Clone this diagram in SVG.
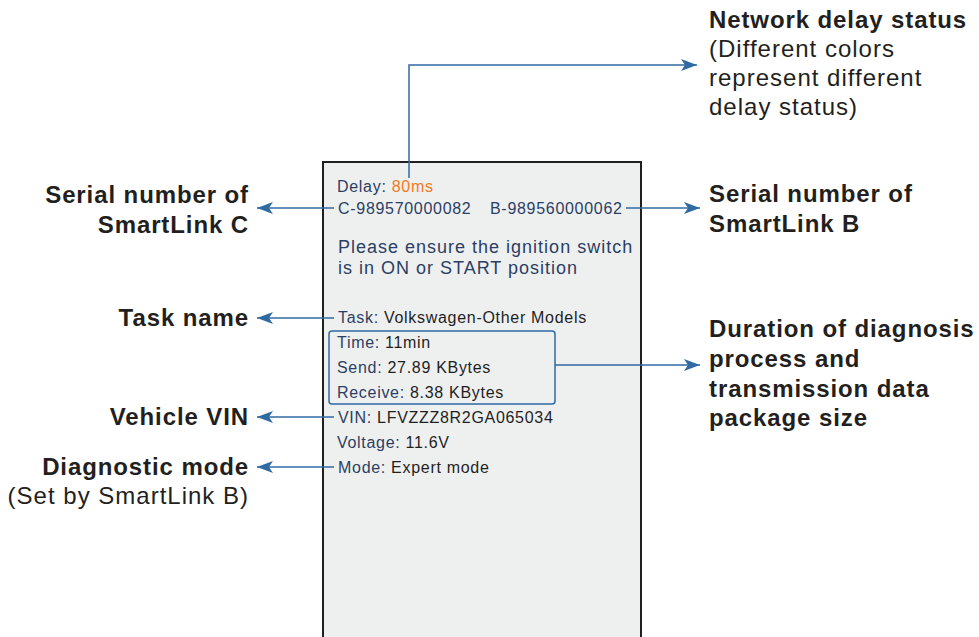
<svg xmlns="http://www.w3.org/2000/svg" width="979" height="637" viewBox="0 0 979 637">
<defs>
<marker id="ah" viewBox="0 0 16 12" refX="16" refY="6" markerWidth="16" markerHeight="12" markerUnits="userSpaceOnUse" orient="auto">
<path d="M0,0 L16,6 L0,12 L4,6 Z" fill="#2f6aa3"/>
</marker>
<style>
.lbl{font-family:"Liberation Sans",Arial,sans-serif;font-size:24px;fill:#231f20;letter-spacing:0.9px}
.b{font-weight:bold}
.r{letter-spacing:1px}
.end{text-anchor:end}
.scr{font-family:"Liberation Sans",Arial,sans-serif;font-size:16px;letter-spacing:0.7px;fill:#1f1f1f}
.k{fill:#2c3e63}
.msg{font-family:"Liberation Sans",Arial,sans-serif;font-size:18px;letter-spacing:1px;fill:#2c3e63}
.ln{fill:none;stroke:#2f6aa3;stroke-width:1.5}
</style>
</defs>
<rect width="979" height="637" fill="#ffffff"/>
<g id="screen">
<rect x="323" y="162" width="318" height="490" fill="#eef0f0" stroke="#1f1f1f" stroke-width="2"/>
<text class="scr k" x="337" y="192">Delay: <tspan fill="#f47920">80ms</tspan></text>
<text class="scr k" x="338" y="214">C-989570000082</text>
<text class="scr k" x="490" y="214">B-989560000062</text>
<text class="msg" x="338" y="253">Please ensure the ignition switch</text>
<text class="msg" x="338" y="274">is in ON or START position</text>
<text class="scr" x="338" y="323"><tspan class="k">Task:</tspan> Volkswagen-Other Models</text>
<rect x="329" y="331" width="226" height="73" rx="3" fill="none" stroke="#2f6aa3" stroke-width="1.5"/>
<text class="scr" x="337" y="348"><tspan class="k">Time:</tspan> 11min</text>
<text class="scr" x="337" y="373"><tspan class="k">Send:</tspan> 27.89 KBytes</text>
<text class="scr" x="337" y="398"><tspan class="k">Receive:</tspan> 8.38 KBytes</text>
<text class="scr" x="338" y="423"><tspan class="k">VIN:</tspan> LFVZZZ8R2GA065034</text>
<text class="scr" x="337" y="448"><tspan class="k">Voltage:</tspan> 11.6V</text>
<text class="scr" x="338" y="473"><tspan class="k">Mode:</tspan> Expert mode</text>
</g>
<g id="connectors">
<path class="ln" d="M409,178 V65 H697" marker-end="url(#ah)"/>
<path class="ln" d="M334,208 H257" marker-end="url(#ah)"/>
<path class="ln" d="M626,208 H700" marker-end="url(#ah)"/>
<path class="ln" d="M334,318 H257" marker-end="url(#ah)"/>
<path class="ln" d="M555,365 H700" marker-end="url(#ah)"/>
<path class="ln" d="M334,417 H257" marker-end="url(#ah)"/>
<path class="ln" d="M334,467 H257" marker-end="url(#ah)"/>
</g>
<g id="label-network-delay">
<text class="lbl b" x="709" y="28">Network delay status</text>
<text class="lbl r" x="709" y="57">(Different colors</text>
<text class="lbl r" x="709" y="86">represent different</text>
<text class="lbl r" x="709" y="115">delay status)</text>
</g>
<g id="label-serial-c">
<text class="lbl b end" x="249" y="203">Serial number of</text>
<text class="lbl b end" x="249" y="233">SmartLink C</text>
</g>
<g id="label-serial-b">
<text class="lbl b" x="709" y="202">Serial number of</text>
<text class="lbl b" x="709" y="232">SmartLink B</text>
</g>
<g id="label-task">
<text class="lbl b end" x="249" y="326">Task name</text>
</g>
<g id="label-duration">
<text class="lbl b" x="709" y="337">Duration of diagnosis</text>
<text class="lbl b" x="709" y="367">process and</text>
<text class="lbl b" x="709" y="397">transmission data</text>
<text class="lbl b" x="709" y="426">package size</text>
</g>
<g id="label-vin">
<text class="lbl b end" x="249" y="425">Vehicle VIN</text>
</g>
<g id="label-mode">
<text class="lbl b end" x="249" y="475">Diagnostic mode</text>
<text class="lbl r end" x="249" y="504">(Set by SmartLink B)</text>
</g>
</svg>
